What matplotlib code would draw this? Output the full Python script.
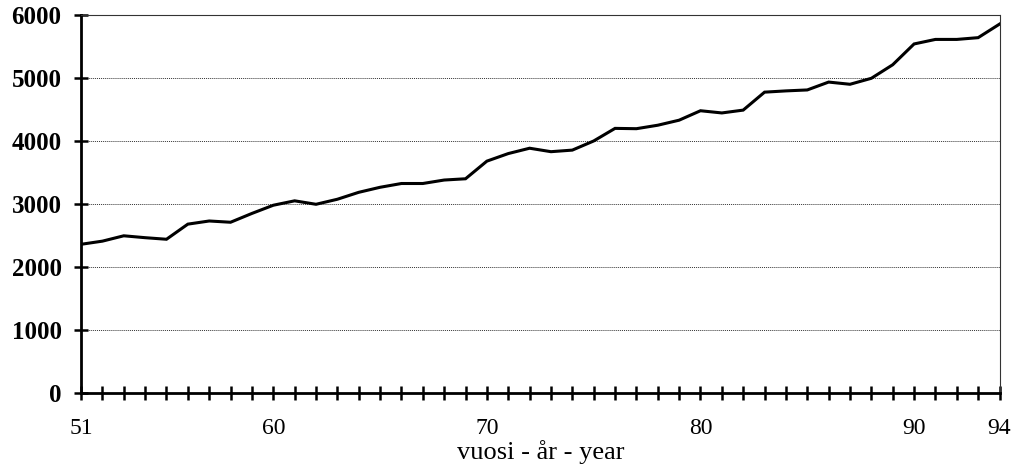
import matplotlib.pyplot as plt
from matplotlib.ticker import FixedLocator, MultipleLocator

years = list(range(51, 95))
values = [2360, 2410, 2495, 2465, 2440, 2680, 2730, 2710, 2850, 2980,
          3050, 2995, 3075, 3185, 3265, 3325, 3325, 3380, 3400, 3680,
          3800, 3885, 3830, 3855, 4000, 4200, 4195, 4250, 4330, 4480,
          4445, 4490, 4775, 4795, 4810, 4935, 4900, 4995, 5210, 5540,
          5612, 5612, 5640, 5855]
year_labels = [51, 60, 70, 80, 90, 94]
y_ticks = [0, 1000, 2000, 3000, 4000, 5000, 6000]

plt.rcParams['font.family'] = ['Liberation Serif', 'DejaVu Serif']

fig = plt.figure(figsize=(10.22, 4.68), dpi=100)
ax = fig.add_axes([0.0793, 0.1603, 0.8987, 0.8077])

ax.plot(years, values, color='black', lw=2.2, solid_joinstyle='miter')

ax.set_xlim(51, 94)
ax.set_ylim(0, 6000)

ax.xaxis.set_major_locator(FixedLocator(year_labels))
ax.xaxis.set_minor_locator(MultipleLocator(1))
ax.set_yticks(y_ticks)

ax.tick_params(axis='both', which='both', direction='inout', length=10,
               width=1.8, color='black')
ax.tick_params(axis='x', which='major', labelsize=17, pad=13)
ax.tick_params(axis='y', which='major', labelsize=18, pad=9)
for lab in ax.get_yticklabels():
    lab.set_fontweight('bold')

ax.grid(axis='y', which='major', linestyle=(0, (1, 1)), color='#333333', lw=0.7)

for side in ['top', 'right']:
    ax.spines[side].set_linestyle((0, (1, 1)))
    ax.spines[side].set_linewidth(0.8)
    ax.spines[side].set_color('#333333')
for side in ['left', 'bottom']:
    ax.spines[side].set_linewidth(2.0)

ax.set_xlabel('vuosi - år - year', fontsize=19, labelpad=1)

fig.savefig('out.png', dpi=100)
